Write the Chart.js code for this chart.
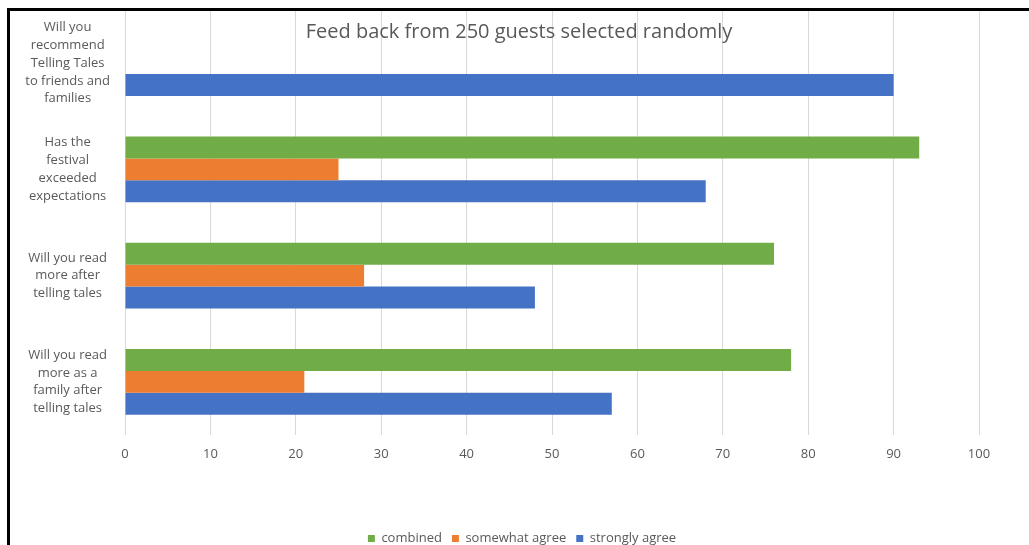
<!DOCTYPE html>
<html>
<head>
<meta charset="utf-8">
<script src="https://cdn.jsdelivr.net/npm/chart.js@4/dist/chart.umd.min.js"></script>
<style>
  html, body { margin: 0; padding: 0; background: #fff; overflow: hidden; }
  .frame {
    position: absolute; left: 7px; top: 8px; width: 1022px; height: 537px;
    border-top: 3px solid #000; border-left: 3px solid #000;
    box-sizing: border-box; z-index: 2; pointer-events: none;
  }
  .wrap { position: absolute; left: 0; top: 0; width: 1029px; height: 555px; }
</style>
</head>
<body>
<div class="frame"></div>
<div class="wrap"><canvas id="feedbackChart"></canvas></div>
<script>
// questions asked (top to bottom)
const questions = [
    ['Will you', 'recommend', 'Telling Tales', 'to friends and', 'families'],
    ['Has the', 'festival', 'exceeded', 'expectations'],
    ['Will you read', 'more after', 'telling tales'],
    ['Will you read', 'more as a', 'family after', 'telling tales']
];
const combined = [null, 93, 76, 78];
const somewhatAgree = [null, 25, 28, 21];
const stronglyAgree = [90, 68, 48, 57];
const xTicks = [0, 10, 20, 30, 40, 50, 60, 70, 80, 90, 100];
const chartTitle = 'Feed back from 250 guests selected randomly';

const grey = '#595959';
const fontFamily = "'Open Sans', 'Noto Sans', sans-serif";

// Excel draws the title on top of the plot area, so paint it ourselves
const titleOverlay = {
    id: 'titleOverlay',
    afterDraw(chart) {
        const ctx = chart.ctx;
        ctx.save();
        ctx.font = '20px ' + fontFamily;
        ctx.fillStyle = grey;
        ctx.textAlign = 'center';
        ctx.textBaseline = 'middle';
        ctx.fillText(chartTitle, 519, 32);
        ctx.restore();
    }
};

document.addEventListener('DOMContentLoaded', function() {
    const ctx = document.getElementById('feedbackChart').getContext('2d');
    new Chart(ctx, {
        type: 'bar',
        data: {
            labels: questions,
            datasets: [
                { label: 'combined', data: combined, backgroundColor: '#70ad47' },
                { label: 'somewhat agree', data: somewhatAgree, backgroundColor: '#ed7d31' },
                { label: 'strongly agree', data: stronglyAgree, backgroundColor: '#4472c4' }
            ]
        },
        options: {
            indexAxis: 'y',
            responsive: true,
            maintainAspectRatio: false,
            animation: false,
            datasets: {
                bar: { categoryPercentage: 0.62, barPercentage: 1.0, borderWidth: 0 }
            },
            layout: { padding: { top: 10, left: 15, right: 0, bottom: 0 } },
            scales: {
                x: {
                    min: 0,
                    max: 100,
                    afterBuildTicks: scale => {
                        scale.ticks = xTicks.map(v => ({ value: v }));
                    },
                    afterFit: scale => {
                        scale.height = 87;
                        scale.paddingLeft = 0;
                        scale.paddingRight = 50;
                    },
                    grid: { color: '#d9d9d9', drawTicks: false },
                    border: { display: false },
                    ticks: {
                        color: grey,
                        padding: 11,
                        font: { family: fontFamily, size: 13 }
                    }
                },
                y: {
                    afterFit: scale => {
                        scale.width = 110;
                        scale.paddingTop = 0;
                        scale.paddingBottom = 0;
                    },
                    grid: { display: false, drawTicks: false },
                    border: { display: false },
                    ticks: {
                        color: grey,
                        padding: 15,
                        crossAlign: 'center',
                        font: { family: fontFamily, size: 13, lineHeight: 1.37 }
                    }
                }
            },
            plugins: {
                legend: {
                    position: 'bottom',
                    labels: {
                        boxWidth: 7,
                        boxHeight: 7,
                        padding: 10,
                        color: grey,
                        font: { family: fontFamily, size: 13 }
                    }
                },
                tooltip: { enabled: false }
            }
        },
        plugins: [titleOverlay]
    });
});
</script>
</body>
</html>
